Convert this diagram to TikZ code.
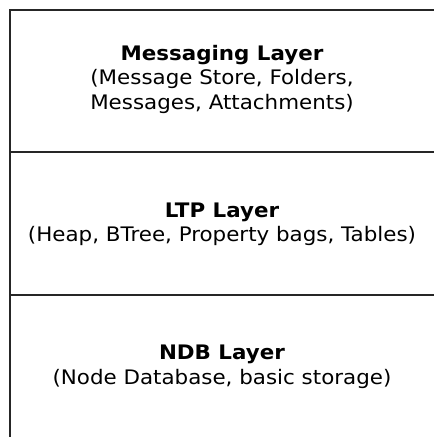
\documentclass[tikz,border=0pt]{standalone}
\usepackage{fontspec}
\setmainfont[FakeStretch=1.07]{DejaVu Sans}
\begin{document}
\begin{tikzpicture}[x=1pt, y=-1pt, line width=1.6pt,
  layerline/.style={draw=black!85},
  layertext/.style={align=center, anchor=base, inner sep=0pt,
    font=\fontsize{20}{24.5}\selectfont}]
\useasboundingbox (0,0) rectangle (434,437);
\coordinate (TL) at (10 ,10) ;
\coordinate (TR) at (434,10) ;
\coordinate (ML) at (10 ,152) ;
\coordinate (MR) at (434,152) ;
\coordinate (NL) at (10 ,295) ;
\coordinate (NR) at (434,295) ;
\coordinate (BL) at (10 ,437) ;
\draw[layerline] (TR) -- (TL) -- (BL);
\draw[layerline] (ML) -- (MR);
\draw[layerline] (NL) -- (NR);
% anchor=base sits on the last line
\node[layertext] (msg) at (222,109)
  {\textbf{Messaging Layer}\\(Message Store, Folders,\\Messages, Attachments)};
\node[layertext] (ltp) at (222,241.5)
  {\textbf{LTP Layer}\\(Heap, BTree, Property bags, Tables)};
\node[layertext] (ndb) at (222,384)
  {\textbf{NDB Layer}\\(Node Database, basic storage)};
\end{tikzpicture}
\end{document}
